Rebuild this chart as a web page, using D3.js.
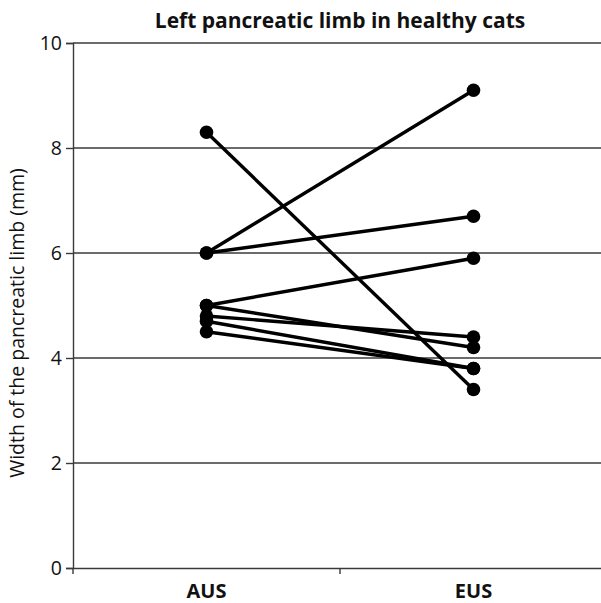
<!DOCTYPE html>
<html><head><meta charset="utf-8">
<script src="https://cdn.jsdelivr.net/npm/d3@7"></script>
<style>body{margin:0;background:#fff}</style>
</head><body>
<svg id="c" width="601" height="603"></svg>
<script>
const categories = ["AUS", "EUS"];
const ausValues = [8.3, 6.0, 6.0, 5.0, 5.0, 4.8, 4.7, 4.5];
const eusValues = [3.4, 9.1, 6.7, 5.9, 4.2, 4.4, 3.8, 3.8];
const yTicks = [0, 2, 4, 6, 8, 10];
const title = "Left pancreatic limb in healthy cats";
const yLabel = "Width of the pancreatic limb (mm)";

const svg = d3.select("#c");
const m = {l: 73, r: 607, t: 43, b: 568};
const x = d3.scaleBand().domain(categories).range([m.l, m.r]);
const y = d3.scaleLinear().domain([0, 10]).range([m.b, m.t]);
const font = "'Open Sans', 'Liberation Sans', sans-serif";

// gridlines
svg.append("g").selectAll("line").data(yTicks.filter(d => d > 0)).join("line")
  .attr("x1", m.l).attr("x2", 601).attr("y1", d => y(d)).attr("y2", d => y(d))
  .attr("stroke", "#3a3a3a").attr("stroke-width", 1.4);

// y axis
const ya = svg.append("g").attr("transform", `translate(${m.l},0)`)
  .call(d3.axisLeft(y).tickValues(yTicks).tickSize(7).tickPadding(4).tickFormat(d3.format("d")));
ya.select(".domain").attr("stroke", "#3a3a3a").attr("stroke-width", 1.4);
ya.selectAll(".tick line").attr("stroke", "#3a3a3a").attr("stroke-width", 1.4);
ya.selectAll("text").attr("font-family", font).attr("font-size", 19.5).attr("fill", "#111");

// x axis
const xa = svg.append("g").attr("transform", `translate(0,${m.b})`)
  .call(d3.axisBottom(x).tickSize(0).tickPadding(16));
xa.select(".domain").attr("stroke", "#3a3a3a").attr("stroke-width", 1.4);
xa.selectAll("text").attr("font-family", font).attr("font-size", 20).attr("font-weight", "bold").attr("fill", "#111");
svg.append("g").selectAll("line").data([m.l, m.l + x.step()]).join("line")
  .attr("x1", d => d).attr("x2", d => d).attr("y1", m.b).attr("y2", m.b + 6)
  .attr("stroke", "#3a3a3a").attr("stroke-width", 1.4);

// lines
const pairs = ausValues.map((a, i) => [a, eusValues[i]]);
const cx = c => x(c) + x.bandwidth() / 2;
svg.append("g").selectAll("line").data(pairs).join("line")
  .attr("x1", cx("AUS")).attr("x2", cx("EUS"))
  .attr("y1", d => y(d[0])).attr("y2", d => y(d[1]))
  .attr("stroke", "#000").attr("stroke-width", 3.4);

// points
const pts = [];
pairs.forEach(p => { pts.push(["AUS", p[0]]); pts.push(["EUS", p[1]]); });
svg.append("g").selectAll("circle").data(pts).join("circle")
  .attr("cx", d => cx(d[0])).attr("cy", d => y(d[1])).attr("r", 6.8).attr("fill", "#000");

// title
svg.append("text").attr("x", 340).attr("y", 28).attr("text-anchor", "middle")
  .attr("font-family", font).attr("font-size", 21).attr("font-weight", "bold").attr("fill", "#111").text(title);

// y label
svg.append("text").attr("transform", `translate(24,323) rotate(-90)`)
  .attr("text-anchor", "middle").attr("font-family", font).attr("font-size", 19.5).attr("fill", "#111").text(yLabel);
</script>
</body></html>
